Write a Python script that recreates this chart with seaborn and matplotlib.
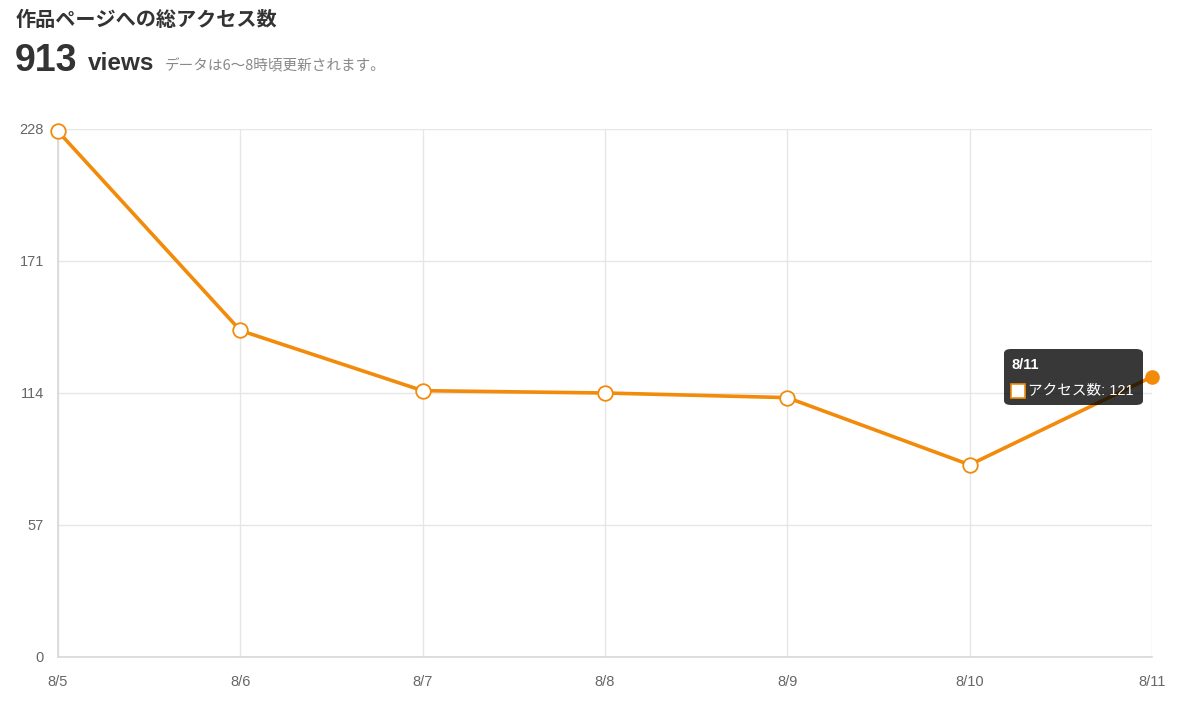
import matplotlib
matplotlib.use("Agg")
import matplotlib.pyplot as plt
import seaborn as sns
import pandas as pd
from matplotlib.patches import FancyBboxPatch, Rectangle

dates = ["8/5", "8/6", "8/7", "8/8", "8/9", "8/10", "8/11"]
views = [227, 141, 115, 114, 112, 83, 121]
y_ticks = [0, 57, 114, 171, 228]
title = "作品ページへの総アクセス数"
total_label = "913"
subtitle = "データは6〜8時頃更新されます。"
tooltip_title = "8/11"
tooltip_label = "アクセス数: 121"

sns.set_theme(style="white")
plt.rcParams['font.family'] = ['Liberation Sans', 'Noto Sans CJK JP', 'DejaVu Sans']

ORANGE = "#f28a0a"
df = pd.DataFrame({"date": dates, "views": views, "x": range(len(dates))})

fig = plt.figure(figsize=(12, 7.24), dpi=100)
ax = fig.add_axes([58/1200, 1-657/724, (1152-58)/1200, (657-129)/724])

sns.lineplot(data=df, x="x", y="views", ax=ax, color=ORANGE, linewidth=2.6, zorder=3)
sub = df.iloc[:-1]
sns.scatterplot(data=sub, x="x", y="views", ax=ax, s=110, color="white",
                edgecolor=ORANGE, linewidth=1.3, zorder=4)
last = df.iloc[-1:]
sns.scatterplot(data=last, x="x", y="views", ax=ax, s=90, color=ORANGE,
                edgecolor=ORANGE, linewidth=1, zorder=4)
for c in ax.collections:
    c.set_clip_on(False)
for l in ax.lines:
    l.set_clip_on(False)

ax.set_xlim(0, len(dates)-1)
ax.set_ylim(0, 228)
ax.set_xticks(range(len(dates)))
ax.set_xticklabels(dates)
ax.set_yticks(y_ticks)
ax.set_xlabel("")
ax.set_ylabel("")
ax.grid(True, color="#e6e6e6", linewidth=1)
for s in ax.spines.values():
    s.set_visible(False)
ax.spines['left'].set_visible(True)
ax.spines['bottom'].set_visible(True)
ax.spines['left'].set_color("#d9d9d9")
ax.spines['bottom'].set_color("#d9d9d9")
ax.tick_params(axis='both', which='both', length=7, color="#e0e0e0", width=1,
               labelsize=10.5, labelcolor="#666666", pad=3)
ax.tick_params(axis='x', pad=6)

# Header texts
fig.text(16/1200, 1-19/724, title, fontsize=14.5, fontweight="bold", color="#333333",
         va="center", family=["Noto Sans CJK JP"])
fig.text(15/1200, 1-61/724, total_label, fontsize=27, fontweight="bold", color="#333333",
         va="center")
fig.text(88/1200, 1-64/724, "views", fontsize=17.5, fontweight="bold", color="#333333",
         va="center")
fig.text(165/1200, 1-66/724, subtitle, fontsize=10.5, color="#888888", va="center",
         family=["Noto Sans CJK JP", "DejaVu Sans"])

# Tooltip
box = FancyBboxPatch((1004/1200, 1-405/724), (1143-1004)/1200, (405-349)/724,
                     boxstyle="round,pad=0,rounding_size=0.006",
                     transform=fig.transFigure, facecolor="black", alpha=0.78,
                     edgecolor="none", zorder=10)
fig.patches.append(box)
fig.text(1011/1200, 1-365/724, tooltip_title, fontsize=10.5, fontweight="bold", color="white",
         va="center", zorder=11)
sq = Rectangle((1011/1200, 1-398/724), 14/1200, 14/724, transform=fig.transFigure,
               facecolor="white", edgecolor=ORANGE, linewidth=1.2, zorder=11)
fig.patches.append(sq)
fig.text(1028/1200, 1-391/724, tooltip_label, fontsize=10.5, color="white", va="center", zorder=11)

fig.savefig("out.png", dpi=100)
